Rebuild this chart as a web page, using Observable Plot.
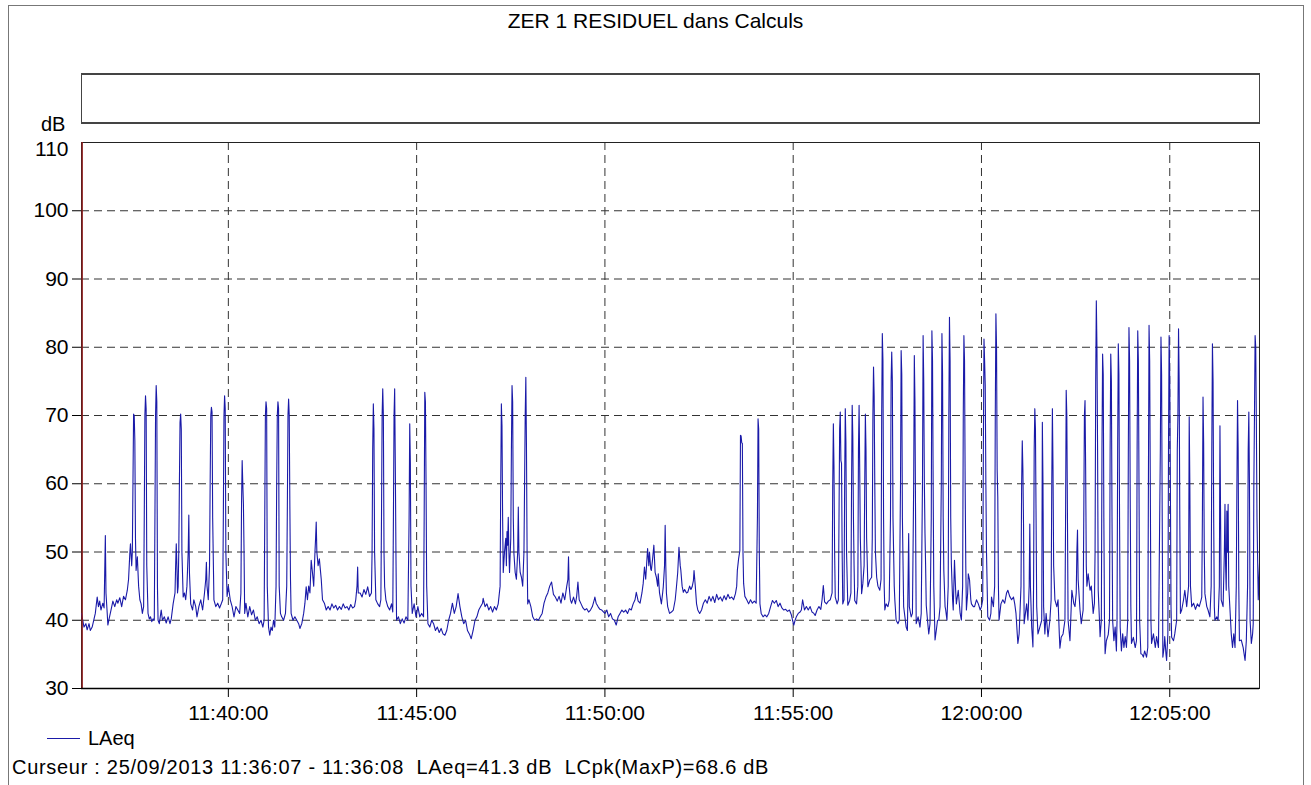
<!DOCTYPE html>
<html>
<head>
<meta charset="utf-8">
<script src="https://cdn.jsdelivr.net/npm/d3@7"></script>
<script src="https://cdn.jsdelivr.net/npm/@observablehq/plot@0.6"></script>
<style>
  html, body { margin: 0; padding: 0; background: #fff; }
  #page { position: relative; width: 1311px; height: 785px; overflow: hidden; font-family: "Liberation Sans", Arial, sans-serif; color: #000; }
  #outer { position: absolute; left: 8px; top: 5px; width: 1296px; height: 800px; border: 1px solid #777; box-sizing: border-box; }
  #title { position: absolute; left: 0; width: 1311px; top: 9px; text-align: center; font-size: 21px; }
  #box { position: absolute; left: 81px; top: 73px; width: 1179px; height: 51px; border: 1px solid #444; border-top-width: 2px; border-bottom-width: 2px; box-sizing: border-box; }
  #unit { position: absolute; left: 41px; top: 113px; font-size: 20px; }
  #chart { position: absolute; left: 0; top: 0; }
  #legend { position: absolute; left: 47px; top: 727px; font-size: 20px; display: flex; align-items: center; }
  #legend .sw { width: 33px; height: 0; border-top: 1px solid #1a1aa8; margin-right: 8px; }
  #caption { position: absolute; left: 12px; top: 756px; font-size: 20px; white-space: pre; letter-spacing: 0.7px; }
</style>
</head>
<body>
<div id="page">
  <div id="outer"></div>
  <div id="title"></div>
  <div id="box"></div>
  <div id="chart"></div>
  <div id="unit"></div>
  <div id="legend"><div class="sw"></div><span id="legendText"></span></div>
  <div id="caption"></div>
</div>
<script>
// ---- Data: [seconds after 11:36:00 on 25/09/2013, LAeq dB] ----
const seg1 = [[6,41],[8,40],[10,39],[13,39.5],[15,38.6],[18,39.5],[20,38.5],[23,39],[26,40.2],[28,41],[31,43.4],[33,42],[35,42.8],[37,41.5],[40,42.5],[42,41.8],[43,47],[44,52.4],[45,44],[47,41],[48,39.3],[50,40.2],[53,41.5],[56,42.8],[59,42],[62,43],[64,42.5],[67,43.3],[70,42],[73,43.5],[76,43],[79,44.4],[81,46],[83,49.8],[84,51.2],[86,48],[87,50],[88,60],[89,70.2],[90,70],[91,66.3],[92,52],[93,47.3],[95,49.3],[97,45],[99,43],[101,42.4],[103,41],[105,42],[106,55],[107,70],[108,72.9],[109,71],[110,48],[112,41],[114,40.2],[116,40.5],[118,39.8],[120,40.2],[122,40],[123,55],[124,70],[125,74.4],[126,72],[127,45],[128,40],[130,39.5],[133,41.5],[135,40],[138,40.5],[141,39.6],[144,40.5],[147,39.5],[149,40.2],[152,42.4],[155,44],[156,48],[157,51.2],[158,48],[159,44],[160,44.9],[161,50],[162,60],[163,69],[164,70.2],[165,68],[166,50],[168,43.4],[170,44],[172,43],[174,45],[176,50],[177,55.4],[178,47],[180,42.4],[183,41.5],[185,43],[188,42],[190,40.5],[193,42],[196,43],[199,41.5],[202,44],[204,46],[205,48.5],[206,45],[208,43],[210,48],[211,60],[212,70],[213,71.2],[214,70.5],[215,55],[217,43],[220,42],[223,42.5],[226,41.8],[229,42.5],[231,43],[232,55],[233,70],[234,72.9],[235,71],[236,50],[238,43.5],[240,45],[243,43],[246,42],[249,40.5],[252,42],[255,41.5],[258,41],[260,44],[261,57],[262,63.4],[263,60],[264,57],[265,50],[266,41],[268,42.5],[271,40.5],[274,42],[277,40.8],[280,41.5],[283,40],[286,40.5],[289,39.5],[292,40],[295,39],[297,40],[298,55],[299,70],[300,72],[301,71],[302,45],[304,39],[306,37.8],[308,39],[310,38.5],[312,40],[314,39],[316,45],[317,60],[318,70],[319,72],[320,71],[321,45],[323,41],[325,40.5],[328,40],[331,41],[333,45],[334,56.6],[335,70],[336,72.4],[337,70],[338,56.6],[339,46],[340,41],[343,40],[346,40.5],[349,40],[352,39.5],[354,38.8],[357,39.5],[360,41],[362,42.5],[364,44.9],[366,43],[368,45],[370,44],[372,48.8],[374,47],[376,45],[378,50],[379,52],[380,54.4],[381,50],[383,48],[385,49],[388,46]];
const seg2 = [[390,43],[393,42.5],[396,41.5],[399,42],[402,41.5],[405,42.4],[408,41.8],[411,42.2],[414,41.5],[417,42],[420,41.6],[423,42.4],[426,41.8],[429,42],[432,41.5],[435,42.3],[438,41.8],[441,42],[443,43],[445,45],[446,47.8],[447,44],[450,44],[453,43.4],[456,44.5],[459,43.8],[462,44.9],[465,43.5],[468,44],[469,50],[470,65],[471,71.7],[472,68],[473,50],[475,43],[478,42.4],[481,42],[483,43],[484,55],[485,70],[486,73.9],[487,70],[488,50],[489,44.9],[491,43],[494,42],[497,41.5],[500,42.4],[502,41.2],[503,55],[504,70],[505,73.9],[506,62.9],[507,50],[508,40],[511,40.5],[514,39.5],[517,40.2],[520,39.6],[523,40.5],[526,40],[528,55],[529,68.8],[530,63],[531,45],[533,41],[536,42.4],[539,40.5],[542,42],[545,40.5],[548,41],[551,40.5],[552,55],[553,73.4],[554,72],[555,60],[556,45],[558,39.5],[561,39],[564,40],[567,39.5],[570,38.5],[573,39],[576,38.2],[579,38.8],[582,38],[585,37.8],[588,38.5],[591,40],[594,41],[597,42.5],[600,41],[603,42],[606,43.9],[609,42],[612,40.5],[615,39.5],[618,40],[621,38.5],[624,38],[627,37.3],[630,38.5],[633,40],[636,40.5],[639,41.5],[642,42],[645,42.5],[646,43.2],[649,42],[652,42.4],[655,41.5],[658,42],[661,41.2],[664,42],[667,41.5],[670,42.4],[673,45],[674,60],[675,71.7],[676,68.5],[677,55],[678,47],[680,50],[682,52],[683,48],[684,53],[685,51],[686,55.1],[687,50],[688,47],[690,52],[691,65],[692,74.4],[693,72],[694,55],[695,49.8],[697,47],[699,46],[701,50],[702,56.6],[703,50],[705,47],[707,46.3],[709,45],[711,50],[712,60],[713,70],[714,75.6],[715,65.4],[716,50],[717,42.4],[719,43],[722,42],[725,40.5],[728,40],[731,40.2],[734,40],[737,40.5],[740,41],[743,42.5],[746,43.4],[749,44],[752,45],[755,45.6],[758,43.8],[761,43.4],[764,42.8],[767,43.5],[770,42.5]];
const seg3 = [[773,44],[776,43],[779,44.9],[781,46],[782,49.3],[783,45],[785,43],[787,42.5],[790,43.4],[793,42.4],[795,43.5],[797,45.6],[799,43],[802,42.4],[805,41.8],[808,41.5],[811,41.7],[814,41.2],[817,41.5],[820,42],[823,43],[824,43.4],[826,42.5],[829,42],[832,41.6],[835,41.5],[838,41.2],[840,41],[843,41.5],[846,40.5],[849,41],[852,40.2],[855,40],[858,39.3],[861,40.5],[864,41],[867,41.5],[870,41.2],[873,41.5],[876,41],[879,41.7],[882,41.5],[885,42.4],[888,43],[890,44.1],[893,42.8],[896,42.5],[899,44],[901,45.4],[903,47.8],[905,46],[907,49],[908,50.5],[910,48],[911,50],[913,47.5],[914,47.3],[916,49],[918,51],[920,47],[922,46.3],[924,45],[925,46.8],[927,44],[930,42.4],[932,44],[933,44.9],[935,48],[936,53.9],[937,48],[938,44],[940,42],[943,41],[946,41.2],[949,41.5],[952,43],[954,44.9],[956,47],[958,50.7],[960,48],[961,47.3],[963,45],[965,44.1],[967,44.5],[970,44],[972,44.1],[975,45],[977,44.5],[979,44.9],[981,45.8],[982,47.3],[984,45],[986,42.4],[988,41.5],[991,41],[994,41.5],[997,42.5],[1000,43],[1003,42.5],[1006,43.5],[1009,42.8],[1012,43.5],[1015,42.6],[1018,43.8],[1021,43],[1024,43.4],[1027,42.8],[1030,43.6],[1033,43],[1036,43.8],[1039,43.2],[1042,43.4],[1045,43],[1048,43.9],[1050,45],[1051,47.3],[1053,49],[1055,50.2],[1056,67.1],[1057,67],[1058,66],[1059,65.9],[1060,50],[1061,45.4],[1063,43.5],[1066,43],[1069,42.4],[1072,43],[1075,42.5],[1078,42.8],[1081,42.5],[1083,55],[1084,69.5],[1085,68],[1086,50],[1087,42.4],[1089,41],[1092,40.5],[1095,40.8],[1098,40.5],[1101,41],[1104,42],[1107,42.9],[1110,42.5],[1113,42.9],[1116,42],[1119,42.5],[1122,41.8],[1125,41.5],[1128,41.6],[1131,41.3],[1134,41.5],[1137,40.8],[1139,40],[1141,39.3],[1143,40],[1145,40.5],[1148,41],[1151,41.2],[1153,41.5]];
const seg4 = [[1155,43],[1158,41.5],[1161,42],[1164,41.5],[1167,42],[1170,41.2],[1173,41],[1175,40.7],[1178,41.5],[1181,42],[1184,41.6],[1186,43],[1188,45.1],[1190,42.7],[1193,42.4],[1196,42.8],[1199,43],[1202,44],[1203,60],[1204,68.8],[1205,62.4],[1206,50],[1207,43.4],[1210,42.4],[1212,43],[1213,55],[1214,68],[1215,70.5],[1216,63.4],[1217,63],[1218,50],[1219,42.4],[1221,43],[1222,60],[1223,71],[1224,66],[1225,50],[1227,42.2],[1230,42.9],[1232,44],[1233,60],[1234,71.5],[1235,66.8],[1236,55],[1237,48],[1238,42.9],[1241,42.4],[1243,45],[1244,65],[1245,71.5],[1246,62],[1247,52],[1249,43.9],[1251,45.4],[1253,48],[1254,60],[1255,70.2],[1256,65],[1257,52],[1259,44.9],[1262,45.9],[1265,46.3],[1266,52],[1267,70],[1268,77.1],[1269,72.9],[1270,60],[1271,50],[1273,46.3],[1275,45],[1278,44.4],[1280,46],[1281,70],[1282,82],[1283,78],[1284,55],[1285,45],[1286,41.5],[1288,42.4],[1291,42],[1293,42.9],[1295,55],[1296,75],[1297,79.3],[1298,75],[1299,55],[1301,45],[1302,42.9],[1304,40],[1307,39.5],[1309,40],[1311,60],[1312,79.5],[1313,76],[1314,55],[1316,42],[1318,40.5],[1320,39],[1322,38.5],[1324,52.7],[1325,42],[1328,40.5],[1330,41],[1332,60],[1333,78.8],[1334,72],[1335,55],[1336,39.5],[1339,40.5],[1342,39],[1344,41],[1346,60],[1347,81.7],[1348,75],[1349,60],[1350,52.7],[1351,48],[1352,42.2],[1354,40],[1356,38],[1358,39.5],[1360,55],[1361,82.4],[1362,78],[1363,60],[1364,45],[1366,37.1],[1368,38.5],[1370,40],[1372,40],[1374,42],[1376,60],[1377,82],[1378,76],[1379,55],[1380,47.3],[1382,42],[1383,41.5],[1385,40],[1387,45],[1388,70],[1389,84.4],[1390,78],[1391,55],[1392,48.3],[1394,43],[1395,41.5],[1397,48.8],[1399,44],[1400,42.4],[1403,44.4],[1406,41],[1408,40],[1410,45],[1411,70],[1412,81.7],[1413,78],[1414,60],[1415,48],[1416,41.5],[1418,44],[1419,46.8],[1421,45.9],[1423,43],[1424,42.4],[1427,42],[1429,42],[1432,43],[1435,42.4],[1438,41.5],[1440,42],[1442,43],[1443,65],[1444,81.2],[1445,78],[1446,74.4],[1447,60],[1448,50],[1450,40.5],[1453,40],[1455,41],[1456,43.4],[1459,42],[1461,45],[1462,70],[1463,84.9],[1464,80],[1465,62],[1466,58],[1467,45],[1468,40],[1471,42.4],[1474,43],[1477,42.5],[1480,44],[1482,44.4],[1485,43.5],[1488,43],[1491,43.4],[1493,42.4],[1495,41],[1497,38],[1498,36.6],[1500,38],[1503,45],[1504,60],[1505,66.3],[1506,62],[1507,54.1],[1508,39.5],[1510,41],[1512,42.4],[1514,40],[1516,45],[1517,54.1],[1518,45],[1520,39],[1522,36.1],[1523,45],[1524,65],[1525,71],[1526,68],[1527,55],[1528,42],[1530,38],[1533,39],[1536,40]];
const seg5 = [[1537,69],[1538,60],[1539,42],[1541,38],[1543,41],[1546,37.6],[1549,40],[1551,43],[1552,60],[1553,71],[1554,62],[1555,48],[1557,43],[1560,42],[1562,43],[1564,38],[1565,35.9],[1567,37.5],[1570,38],[1573,40],[1574,55],[1575,73.7],[1576,70],[1577,55],[1578,40],[1581,37],[1584,44.4],[1587,42.5],[1589,42],[1591,44],[1592,50],[1593,53.2],[1594,46],[1597,41.5],[1599,39.5],[1602,41.5],[1603,55],[1604,70],[1605,72.2],[1606,62],[1607,48],[1608,45],[1610,46.8],[1613,44.4],[1615,45],[1618,41],[1620,42.5],[1621,50],[1622,75],[1623,86.8],[1624,80],[1625,65],[1626,44.4],[1628,40],[1629,37.6],[1631,40],[1632,65],[1633,79],[1634,76],[1635,55],[1636,40],[1637,35.1],[1639,37],[1642,37.9],[1644,40],[1645,65],[1646,79],[1647,75],[1648,55],[1649,40],[1651,37],[1653,39],[1655,35.5],[1656,40],[1657,65],[1658,80.5],[1659,76],[1660,55],[1661,39],[1663,35.5],[1665,38],[1667,36],[1669,37.6],[1671,36],[1673,40],[1674,65],[1675,82.9],[1676,78],[1677,58],[1678,42],[1679,36.6],[1682,37.5],[1685,36],[1687,37],[1688,65],[1689,82.4],[1690,78],[1691,60],[1692,40],[1694,35.1],[1696,35],[1698,34.6],[1700,35.5],[1703,34.6],[1705,36],[1706,60],[1707,83.2],[1708,78],[1709,60],[1710,40],[1711,36.6],[1714,38],[1717,36],[1719,37.6],[1722,36],[1725,65],[1726,81.5],[1727,76],[1728,55],[1729,34.6],[1731,36],[1732,37.6],[1734,35],[1735,34.1],[1737,38],[1738,65],[1739,81.7],[1740,75],[1741,60],[1742,42],[1743,37.5],[1746,37],[1748,38],[1751,40],[1752,65],[1753,70],[1754,82.7],[1755,75],[1756,55],[1757,41],[1759,41.5],[1762,43],[1764,44.4],[1767,42],[1770,45],[1771,69.8],[1772,60],[1773,45],[1775,42],[1778,42.5],[1781,41.6],[1784,42.4],[1787,42],[1790,43],[1791,43.4],[1792,55],[1793,72.7],[1794,66],[1795,50],[1796,43.9],[1799,42],[1801,41.5],[1804,40.5],[1806,45],[1807,65],[1808,80.5],[1809,75],[1810,55],[1811,42],[1812,40],[1815,40.5],[1817,40],[1819,45],[1820,68.5],[1821,55],[1822,43],[1825,42],[1827,50],[1828,57],[1829,48],[1830,44.4],[1831,56],[1832,50],[1833,57],[1834,45],[1836,41.5],[1838,38],[1840,36],[1842,38],[1844,36],[1846,45],[1847,60],[1848,72.2],[1849,65],[1850,45],[1851,37],[1854,37.1],[1857,36],[1860,34.1],[1862,37],[1864,45],[1865,65],[1866,70.5],[1867,60],[1868,40],[1870,36.6],[1872,38],[1873,39.5],[1874,60],[1875,70],[1876,81.7],[1877,80],[1878,68.8],[1879,55],[1881,43],[1883,48.3]];

const xTicks = ["11:40:00", "11:45:00", "11:50:00", "11:55:00", "12:00:00", "12:05:00"];
const xDomainTimes = ["11:36:06", "12:07:23"];
const yTicks = [30, 40, 50, 60, 70, 80, 90, 100, 110];
const cursorTime = "11:36:07";
const titleText = "ZER 1 RESIDUEL dans Calculs";
const unitText = "dB";
const seriesName = "LAeq";
const captionText = "Curseur : 25/09/2013 11:36:07 - 11:36:08  LAeq=41.3 dB  LCpk(MaxP)=68.6 dB";

// ---- Build ----
const day = [2013, 8, 25];
const parseT = s => { const [h, m, sec] = s.split(":").map(Number); return new Date(day[0], day[1], day[2], h, m, sec); };
const base = parseT("11:36:00");
const rows = [...seg1, ...seg2, ...seg3, ...seg4, ...seg5].map(([t, v]) => ({time: new Date(+base + t * 1000), LAeq: v}));
const xTickDates = xTicks.map(parseT);

document.getElementById("title").textContent = titleText;
document.getElementById("unit").textContent = unitText;
document.getElementById("legendText").textContent = seriesName;
document.getElementById("caption").textContent = captionText;

const yTop = yTicks[yTicks.length - 1];
const dash = {stroke: "#333", strokeOpacity: 1, strokeWidth: 1, strokeDasharray: "8,5"};
const chart = Plot.plot({
  width: 1311,
  height: 730,
  marginLeft: 81,
  marginRight: 52,
  marginTop: 142,
  marginBottom: 42,
  style: {fontFamily: "'Liberation Sans', Arial, sans-serif", fontSize: "21px", color: "#000", background: "transparent", overflow: "visible"},
  x: {type: "time", domain: xDomainTimes.map(parseT)},
  y: {domain: [yTicks[0], yTop]},
  marks: [
    Plot.gridX(xTickDates, dash),
    Plot.gridY(yTicks.slice(1, -1), dash),
    Plot.frame({stroke: "#222", strokeWidth: 1}),
    Plot.lineY(rows, {x: "time", y: "LAeq", stroke: "#1a1aa8", strokeWidth: 1.1, clip: true}),
    Plot.ruleX([parseT(cursorTime)], {stroke: "#8b1a1a", strokeWidth: 1.5}),
    Plot.ruleY([yTicks[0]], {stroke: "#000", strokeWidth: 1.5}),
    Plot.axisX(xTickDates, {tickFormat: d3.timeFormat("%H:%M:%S"), tickSize: 9, tickPadding: 8, label: null}),
    Plot.axisY(yTicks.slice(0, -1), {tickSize: 9, tickPadding: 4, label: null}),
    Plot.axisY([yTop], {tickSize: 0, tickPadding: 13, dy: 7, label: null})
  ]
});
document.getElementById("chart").appendChild(chart);
</script>
</body>
</html>
